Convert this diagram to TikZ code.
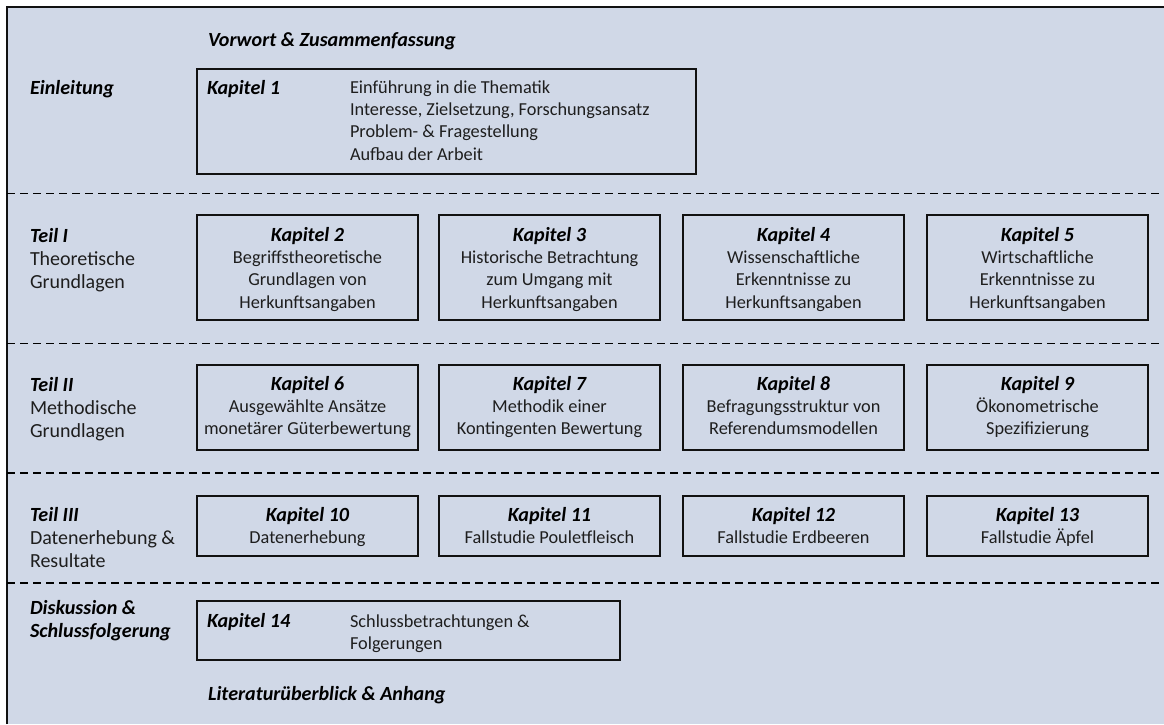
\documentclass[tikz,border=0pt]{standalone}
\usepackage{fontspec}
\setmainfont{Carlito}
\definecolor{panel}{HTML}{D0D8E7}
\definecolor{txt}{HTML}{1E1E1E}
\definecolor{edge}{HTML}{111111}
% chapter and section headings: bold italic, a little larger than body text
\newcommand{\kap}[1]{{\fontsize{20.1}{22.4}\selectfont\bfseries\itshape\color{black}#1}}
\begin{document}
% multi-line nodes are placed by the baseline of their last line
\begin{tikzpicture}[x=1pt,y=-1pt,
  every node/.style={inner sep=0pt, outer sep=0pt, text=txt,
    font=\fontsize{18.3}{22.4}\selectfont},
  chapbox/.style={draw=edge, line width=2pt},
  head/.style={anchor=base west},
  lbl/.style={anchor=base west, align=left, font=\fontsize{20}{23}\selectfont},
  body/.style={anchor=base, align=center},
  listtext/.style={anchor=base west, align=left},
  sep/.style={dash pattern=on 8pt off 5pt, line width=1.6pt, draw=black}
]
\useasboundingbox (0,0) rectangle (1164,724);

% panel and its frame (open to the right and bottom)
\fill[panel] (7,7) rectangle (1164,724);
\draw[line width=2.5pt, draw=edge] (7,724) -- (7,7) -- (1164,7);

% section separators
\coordinate (s1l) at (7,193.5);  \coordinate (s1r) at (1164,193.5);
\coordinate (s2l) at (7,343.5);  \coordinate (s2r) at (1164,343.5);
\coordinate (s3l) at (7,473);    \coordinate (s3r) at (1164,473);
\coordinate (s4l) at (7,583);    \coordinate (s4r) at (1164,583);
\draw[sep] (s1l) -- (s1r);
\draw[sep] (s2l) -- (s2r);
\draw[sep] (s3l) -- (s3r);
\draw[sep] (s4l) -- (s4r);

% front and back matter
\node[head] (vorwort) at (208,46) {\kap{Vorwort \& Zusammenfassung}};
\node[head] (literatur) at (208,700) {\kap{Literaturüberblick \& Anhang}};

% section labels
\node[lbl] (einl) at (30,94) {\kap{Einleitung}};
\node[lbl] (teil1) at (30,288) {\kap{Teil I}\\Theoretische\\Grundlagen};
\node[lbl] (teil2) at (30,437) {\kap{Teil II}\\Methodische\\Grundlagen};
\node[lbl] (teil3) at (30,567) {\kap{Teil III}\\Datenerhebung \&\\Resultate};
\node[lbl] (disk) at (30,637) {\kap{Diskussion \&}\\\kap{Schlussfolgerung}};

% chapter 1
\node[chapbox, minimum width=499pt, minimum height=105pt] (k1) at (446.5,121.5) {};
\node[head] (k1h) at (207,94) {\kap{Kapitel 1}};
\node[listtext] (k1t) at (350,160.2) {Einführung in die Thematik\\Interesse, Zielsetzung, Forschungsansatz\\Problem- \& Fragestellung\\Aufbau der Arbeit};

% part I
\node[chapbox, minimum width=221pt, minimum height=105pt] (k2) at (307.5,267.5) {};
\node[chapbox, minimum width=221pt, minimum height=105pt] (k3) at (549.5,267.5) {};
\node[chapbox, minimum width=221pt, minimum height=105pt] (k4) at (793.5,267.5) {};
\node[chapbox, minimum width=221pt, minimum height=105pt] (k5) at (1037.5,267.5) {};
\node[body] (k2t) at (307.5,308.2) {\kap{Kapitel 2}\\Begriffstheoretische\\Grundlagen von\\Herkunftsangaben};
\node[body] (k3t) at (549.5,308.2) {\kap{Kapitel 3}\\Historische Betrachtung\\zum Umgang mit\\Herkunftsangaben};
\node[body] (k4t) at (793.5,308.2) {\kap{Kapitel 4}\\Wissenschaftliche\\Erkenntnisse zu\\Herkunftsangaben};
\node[body] (k5t) at (1037.5,308.2) {\kap{Kapitel 5}\\Wirtschaftliche\\Erkenntnisse zu\\Herkunftsangaben};

% part II
\node[chapbox, minimum width=221pt, minimum height=85pt] (k6) at (307.5,407.5) {};
\node[chapbox, minimum width=221pt, minimum height=85pt] (k7) at (549.5,407.5) {};
\node[chapbox, minimum width=221pt, minimum height=85pt] (k8) at (793.5,407.5) {};
\node[chapbox, minimum width=221pt, minimum height=85pt] (k9) at (1037.5,407.5) {};
\node[body] (k6t) at (307.5,434.8) {\kap{Kapitel 6}\\Ausgewählte Ansätze\\monetärer Güterbewertung};
\node[body] (k7t) at (549.5,434.8) {\kap{Kapitel 7}\\Methodik einer\\Kontingenten Bewertung};
\node[body] (k8t) at (793.5,434.8) {\kap{Kapitel 8}\\Befragungsstruktur von\\Referendumsmodellen};
\node[body] (k9t) at (1037.5,434.8) {\kap{Kapitel 9}\\Ökonometrische\\Spezifizierung};

% part III
\node[chapbox, minimum width=221pt, minimum height=60pt] (k10) at (307.5,526) {};
\node[chapbox, minimum width=221pt, minimum height=60pt] (k11) at (549.5,526) {};
\node[chapbox, minimum width=221pt, minimum height=60pt] (k12) at (793.5,526) {};
\node[chapbox, minimum width=221pt, minimum height=60pt] (k13) at (1037.5,526) {};
\node[body] (k10t) at (307.5,543.4) {\kap{Kapitel 10}\\Datenerhebung};
\node[body] (k11t) at (549.5,543.4) {\kap{Kapitel 11}\\Fallstudie Pouletfleisch};
\node[body] (k12t) at (793.5,543.4) {\kap{Kapitel 12}\\Fallstudie Erdbeeren};
\node[body] (k13t) at (1037.5,543.4) {\kap{Kapitel 13}\\Fallstudie Äpfel};

% chapter 14
\node[chapbox, minimum width=423pt, minimum height=59pt] (k14) at (408.5,630.5) {};
\node[head] (k14h) at (207,627) {\kap{Kapitel 14}};
\node[listtext] (k14t) at (350,649.4) {Schlussbetrachtungen \&\\Folgerungen};
\end{tikzpicture}
\end{document}
